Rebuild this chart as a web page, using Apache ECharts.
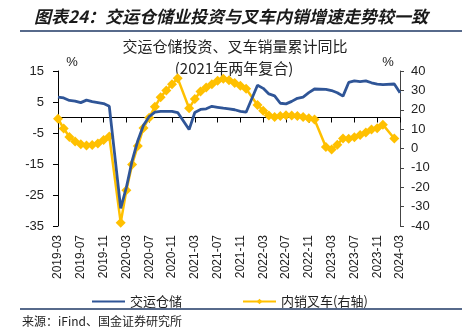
<!DOCTYPE html>
<html><head><meta charset="utf-8">
<script src="https://cdn.jsdelivr.net/npm/echarts@6/dist/echarts.min.js"></script>
<style>html,body{margin:0;padding:0;background:#fff}#c{width:462px;height:330px}</style>
</head><body><div id="c"></div>
<script>
var categories = [
'2019-03','2019-04','2019-05','2019-06','2019-07','2019-08','2019-09','2019-10','2019-11','2019-12',
'2020-01','2020-02','2020-03','2020-04','2020-05','2020-06','2020-07','2020-08','2020-09','2020-10','2020-11','2020-12',
'2021-01','2021-02','2021-03','2021-04','2021-05','2021-06','2021-07','2021-08','2021-09','2021-10','2021-11','2021-12',
'2022-01','2022-02','2022-03','2022-04','2022-05','2022-06','2022-07','2022-08','2022-09','2022-10','2022-11','2022-12',
'2023-01','2023-02','2023-03','2023-04','2023-05','2023-06','2023-07','2023-08','2023-09','2023-10','2023-11','2023-12',
'2024-01','2024-02','2024-03'];
var transportStorage = [
6.6,6.3,5.5,5.3,4.8,5.6,5.1,4.8,4.5,3.6,
null,-29.3,-22.5,-14.0,-7.5,-2.5,0.3,1.7,2.0,2.0,2.0,1.6,
null,-3.9,1.6,2.6,2.8,3.6,3.3,3.0,2.8,2.5,2.0,1.7,
null,10.4,9.4,7.6,7.0,4.6,4.4,5.2,6.2,6.6,8.0,9.2,
null,9.1,8.7,8.0,6.9,11.3,11.8,11.6,11.8,11.2,10.8,10.6,
null,10.8,8.0];
var forkliftDomestic = [
15.4,10.3,6.0,3.6,2.2,1.6,1.8,2.6,4.4,6.2,
null,-38.3,-21.5,-8.2,1.3,10.6,15.9,21.5,26.5,30.0,33.2,36.2,
null,20.8,25.5,29.4,31.5,33.2,35.0,36.0,35.2,33.8,32.4,30.8,
null,22.5,19.5,17.0,16.3,16.8,17.2,17.0,16.8,16.3,15.6,15.0,
null,0.8,-0.5,2.0,5.2,5.0,5.8,7.0,8.3,9.8,10.5,12.3,
null,5.2,null];
var seriesNames = ['交运仓储','内销叉车(右轴)'];
var titleText = '图表24：交运仓储业投资与叉车内销增速走势较一致';
var subTitle1 = '交运仓储投资、叉车销量累计同比';
var subTitle2 = '(2021年两年复合)';
var sourceText = '来源：iFind、国金证券研究所';

var BLUE = '#2F5597', YELLOW = '#FFC000';
var CJK = '"Noto Sans CJK SC", sans-serif';
var LAT = '"Liberation Sans", Arial, sans-serif';
var chart = echarts.init(document.getElementById('c'), null, {renderer:'canvas'});
chart.setOption({
  animation:false,
  backgroundColor:'#fff',
  grid:{left:58,right:62,top:71,bottom:104,containLabel:false},
  legend:{
    data:[{name:seriesNames[0],itemStyle:{opacity:0}},{name:seriesNames[1]}],
    left:86, top:290, itemWidth:33, itemHeight:7, itemGap:60,
    textStyle:{fontSize:13,color:'#222',fontFamily:CJK}
  },
  xAxis:[
    {type:'category',data:categories,boundaryGap:false,position:'bottom',
     axisLine:{show:false,onZero:false},axisTick:{show:false},splitLine:{show:false},
     axisLabel:{rotate:90,interval:3,margin:9,fontSize:12,color:'#222',fontFamily:LAT}},
    {type:'category',data:categories,boundaryGap:false,position:'top',
     axisLine:{show:true,onZero:true,onZeroAxisIndex:0,lineStyle:{color:'#000',width:1}},
     axisTick:{show:true,inside:true,interval:3,length:5,lineStyle:{color:'#000'}},
     axisLabel:{show:false},splitLine:{show:false}}
  ],
  yAxis:[
    {type:'value',min:-35,max:15,interval:10,position:'left',
     axisLine:{show:true,lineStyle:{color:'#000',width:1}},
     axisTick:{show:true,length:5,lineStyle:{color:'#000'}},
     axisLabel:{margin:14,fontSize:13,color:'#222',fontFamily:LAT},
     splitLine:{show:false}},
    {type:'value',min:-40,max:40,interval:10,position:'right',
     axisLine:{show:true,lineStyle:{color:'#444',width:1}},
     axisTick:{show:true,length:4,lineStyle:{color:'#444'}},
     axisLabel:{margin:11,fontSize:13,color:'#222',fontFamily:LAT},
     splitLine:{show:false}}
  ],
  series:[
    {name:seriesNames[0],type:'line',xAxisIndex:0,yAxisIndex:0,data:transportStorage,
     connectNulls:true,showSymbol:false,symbol:'none',
     lineStyle:{color:BLUE,width:2.8},itemStyle:{color:BLUE},z:3},
    {name:seriesNames[1],type:'line',xAxisIndex:0,yAxisIndex:1,data:forkliftDomestic,
     connectNulls:true,symbol:'diamond',symbolSize:10,showAllSymbol:true,
     lineStyle:{color:YELLOW,width:2.5},itemStyle:{color:YELLOW},z:2}
  ],
  graphic:[
    {type:'text',left:'center',top:8,style:{text:titleText,font:'italic bold 17px '+CJK,fill:'#1a1a1a'}},
    {type:'line',shape:{x1:20,y1:31,x2:462,y2:31},style:{stroke:'#1F3864',lineWidth:1.5}},
    {type:'text',x:235,y:46,style:{text:subTitle1,font:'15px '+CJK,fill:'#222',textAlign:'center',textVerticalAlign:'middle'}},
    {type:'text',x:234,y:68,style:{text:subTitle2,font:'15px '+CJK,fill:'#222',textAlign:'center',textVerticalAlign:'middle'}},
    {type:'text',x:72,y:62,style:{text:'%',font:'13px '+LAT,fill:'#222',textAlign:'center',textVerticalAlign:'middle'}},
    {type:'text',x:388,y:62,style:{text:'%',font:'13px '+LAT,fill:'#222',textAlign:'center',textVerticalAlign:'middle'}},
    {type:'line',shape:{x1:20,y1:309,x2:462,y2:309},style:{stroke:'#1F3864',lineWidth:1.5}},
    {type:'text',x:22,y:321,style:{text:sourceText,font:'12px '+CJK,fill:'#222',textVerticalAlign:'middle'}}
  ]
});
</script></body></html>
